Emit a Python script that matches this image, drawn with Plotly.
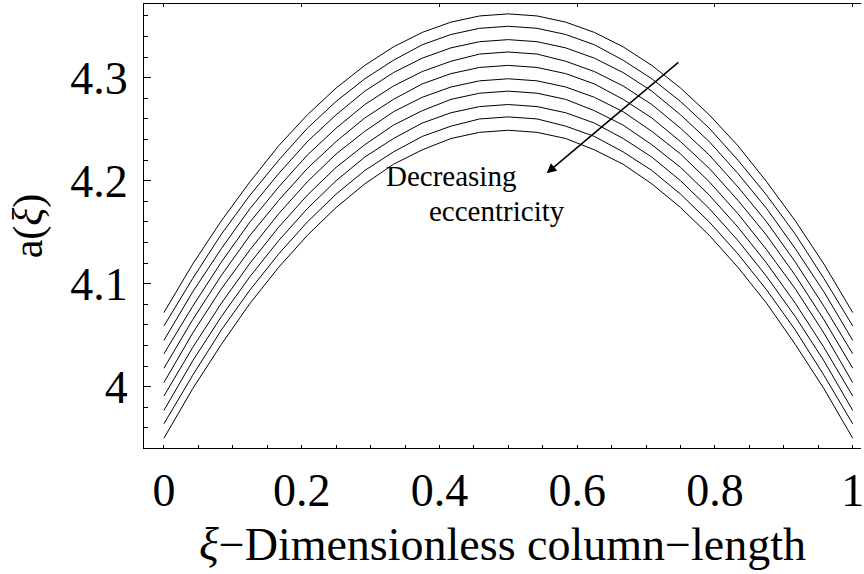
import plotly.graph_objects as go

# xi sample positions (dimensionless column length)
xi = [0, 0.0417, 0.0833, 0.125, 0.1667, 0.2083, 0.25, 0.2917, 0.3333, 0.375, 0.4167, 0.4583, 0.5,
      0.5417, 0.5833, 0.625, 0.6667, 0.7083, 0.75, 0.7917, 0.8333, 0.875, 0.9167, 0.9583, 1.0]

# a(xi) curves, from lowest (bottom) to highest (top)
a_1 = [3.950, 3.998, 4.041, 4.081, 4.116, 4.147, 4.174, 4.197, 4.216, 4.230, 4.241, 4.247, 4.249,
       4.247, 4.241, 4.230, 4.216, 4.197, 4.174, 4.147, 4.116, 4.081, 4.041, 3.998, 3.950]
a_2 = [3.964, 4.011, 4.055, 4.094, 4.129, 4.160, 4.187, 4.210, 4.228, 4.243, 4.253, 4.260, 4.262,
       4.260, 4.253, 4.243, 4.228, 4.210, 4.187, 4.160, 4.129, 4.094, 4.055, 4.011, 3.964]
a_3 = [3.977, 4.025, 4.068, 4.107, 4.142, 4.173, 4.200, 4.223, 4.241, 4.256, 4.266, 4.272, 4.274,
       4.272, 4.266, 4.256, 4.241, 4.223, 4.200, 4.173, 4.142, 4.107, 4.068, 4.025, 3.977]
a_4 = [3.991, 4.038, 4.081, 4.120, 4.155, 4.186, 4.213, 4.235, 4.254, 4.268, 4.279, 4.285, 4.287,
       4.285, 4.279, 4.268, 4.254, 4.235, 4.213, 4.186, 4.155, 4.120, 4.081, 4.038, 3.991]
a_5 = [4.004, 4.052, 4.095, 4.133, 4.168, 4.199, 4.226, 4.248, 4.267, 4.281, 4.291, 4.297, 4.299,
       4.297, 4.291, 4.281, 4.267, 4.248, 4.226, 4.199, 4.168, 4.133, 4.095, 4.052, 4.004]
a_6 = [4.018, 4.065, 4.108, 4.147, 4.181, 4.212, 4.238, 4.261, 4.279, 4.294, 4.304, 4.310, 4.312,
       4.310, 4.304, 4.294, 4.279, 4.261, 4.238, 4.212, 4.181, 4.147, 4.108, 4.065, 4.018]
a_7 = [4.032, 4.078, 4.121, 4.160, 4.194, 4.225, 4.251, 4.274, 4.292, 4.306, 4.316, 4.323, 4.325,
       4.323, 4.316, 4.306, 4.292, 4.274, 4.251, 4.225, 4.194, 4.160, 4.121, 4.078, 4.032]
a_8 = [4.045, 4.092, 4.134, 4.173, 4.207, 4.238, 4.264, 4.287, 4.305, 4.319, 4.329, 4.335, 4.337,
       4.335, 4.329, 4.319, 4.305, 4.287, 4.264, 4.238, 4.207, 4.173, 4.134, 4.092, 4.045]
a_9 = [4.059, 4.105, 4.148, 4.186, 4.220, 4.251, 4.277, 4.299, 4.317, 4.332, 4.342, 4.348, 4.350,
       4.348, 4.342, 4.332, 4.317, 4.299, 4.277, 4.251, 4.220, 4.186, 4.148, 4.105, 4.059]
a_10 = [4.072, 4.119, 4.161, 4.199, 4.234, 4.264, 4.290, 4.312, 4.330, 4.344, 4.354, 4.360, 4.362,
        4.360, 4.354, 4.344, 4.330, 4.312, 4.290, 4.264, 4.234, 4.199, 4.161, 4.119, 4.072]
curves = [a_1, a_2, a_3, a_4, a_5, a_6, a_7, a_8, a_9, a_10]

x_tickvals = [0, 0.2, 0.4, 0.6, 0.8, 1.0]
x_ticktext = ["0", "0.2", "0.4", "0.6", "0.8", "1"]
y_tickvals = [4.0, 4.1, 4.2, 4.3]
y_ticktext = ["4", "4.1", "4.2", "4.3"]

FONT = "Liberation Serif, Times New Roman, serif"

fig = go.Figure()
for c in curves:
    fig.add_trace(go.Scatter(x=xi, y=c, mode="lines",
                             line=dict(color="black", width=1),
                             showlegend=False, hoverinfo="skip"))
# invisible trace so the top (mirror) axis exists
fig.add_trace(go.Scatter(x=[xi[0]], y=[a_1[0]], xaxis="x2", mode="markers",
                         marker=dict(opacity=0), showlegend=False, hoverinfo="skip"))

xrange = [-0.0289, 1.012]
fig.update_layout(
    width=864, height=574,
    margin=dict(l=144, r=0, t=4, b=126),
    paper_bgcolor="white", plot_bgcolor="white",
    font=dict(family=FONT, color="black"),
    xaxis=dict(range=xrange, showgrid=False, zeroline=False,
               showline=True, linecolor="black", linewidth=1, mirror=True,
               ticks="inside", ticklen=3, tickcolor="black",
               tickvals=x_tickvals, ticktext=x_ticktext,
               tickfont=dict(size=46, family=FONT),
               ticklabelstandoff=2, ticklabeloverflow="allow",
               minor=dict(dtick=0.05, tick0=0, ticks="inside", ticklen=3, tickcolor="black"),
               title=dict(text="<i>ξ</i>−Dimensionless column−length",
                          font=dict(size=46, family=FONT), standoff=12)),
    xaxis2=dict(range=xrange, overlaying="x", side="top", showgrid=False, zeroline=False,
                showline=False, ticks="inside", ticklen=3, tickcolor="black",
                tickvals=x_tickvals, showticklabels=False),
    yaxis=dict(range=[3.9405, 4.3716], showgrid=False, zeroline=False,
               showline=True, linecolor="black", linewidth=1,
               ticks="inside", ticklen=7, tickcolor="black",
               tickvals=y_tickvals, ticktext=y_ticktext,
               tickfont=dict(size=46, family=FONT),
               ticklabelstandoff=6,
               minor=dict(dtick=0.02, tick0=4.0, ticks="inside", ticklen=3.5, tickcolor="black"),
               title=dict(text="a(<i>ξ</i>)", font=dict(size=42, family=FONT), standoff=14)),
)

fig.add_annotation(x=0.5556, y=4.2072, ax=0.749, ay=4.3162,
                   xref="x", yref="y", axref="x", ayref="y",
                   text="", showarrow=True, arrowhead=2, arrowsize=1.3,
                   arrowwidth=1.5, arrowcolor="black")
fig.add_annotation(x=0.3195, y=4.2046, xref="x", yref="y", text="Decreasing",
                   showarrow=False, xanchor="left", yanchor="middle",
                   font=dict(size=29, family=FONT, color="black"))
fig.add_annotation(x=0.3820, y=4.1706, xref="x", yref="y", text="eccentricity",
                   showarrow=False, xanchor="left", yanchor="middle",
                   font=dict(size=29, family=FONT, color="black"))

fig.write_html("out.html")
